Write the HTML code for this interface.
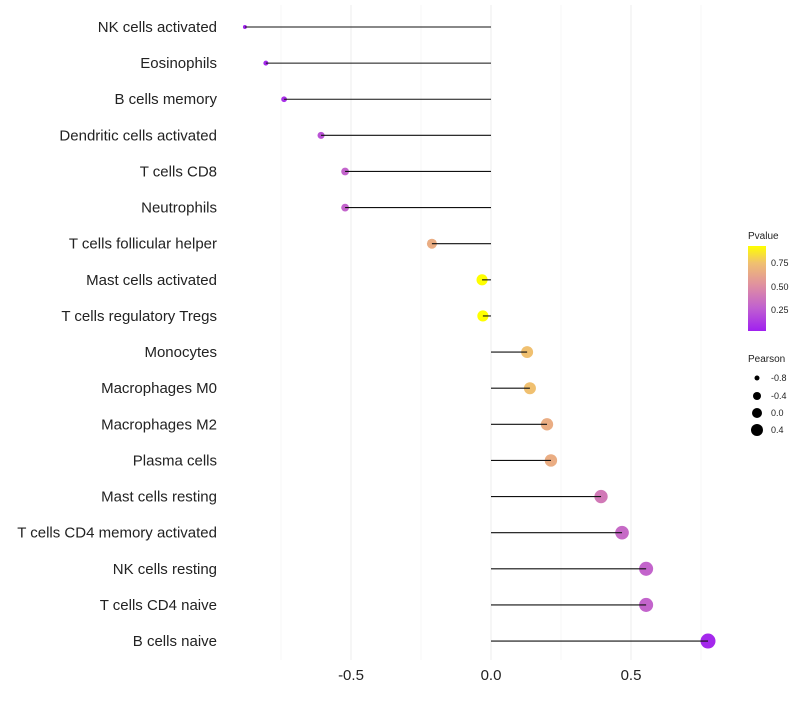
<!DOCTYPE html>
<html><head><meta charset="utf-8"><style>
body{margin:0;background:#fff;font-family:"Liberation Sans",sans-serif;}
</style></head><body>
<svg id="c" width="800" height="700" xmlns="http://www.w3.org/2000/svg">
<defs><linearGradient id="pg" x1="0" y1="1" x2="0" y2="0">
<stop offset="0" stop-color="#a020f0"/><stop offset="0.27" stop-color="#c060d0"/>
<stop offset="0.54" stop-color="#e090a0"/><stop offset="0.8" stop-color="#f0c070"/><stop offset="1" stop-color="#ffff00"/>
</linearGradient></defs>
<g id="grid"></g><g id="marks"></g><g id="labels"></g>
<g font-size="9" fill="#222">
<text x="748" y="239" font-size="10">Pvalue</text>
<rect x="748" y="246" width="18" height="85" fill="url(#pg)"/>
<text x="771" y="266">0.75</text><text x="771" y="290">0.50</text><text x="771" y="313">0.25</text>
<text x="748" y="362" font-size="10">Pearson</text>
<circle cx="757" cy="378" r="2.5" fill="#000"/><text x="771" y="381">-0.8</text>
<circle cx="757" cy="396" r="4" fill="#000"/><text x="771" y="399">-0.4</text>
<circle cx="757" cy="413" r="5" fill="#000"/><text x="771" y="416">0.0</text>
<circle cx="757" cy="430" r="6" fill="#000"/><text x="771" y="433">0.4</text>
</g>
</svg>
<script>
const categories=["NK cells activated","Eosinophils","B cells memory","Dendritic cells activated","T cells CD8","Neutrophils","T cells follicular helper","Mast cells activated","T cells regulatory  Tregs","Monocytes","Macrophages M0","Macrophages M2","Plasma cells","Mast cells resting","T cells CD4 memory activated","NK cells resting","T cells CD4 naive","B cells naive"];
const pearson=[-0.879,-0.804,-0.739,-0.607,-0.521,-0.521,-0.211,-0.032,-0.029,0.129,0.139,0.2,0.214,0.393,0.468,0.554,0.554,0.775];
const pvalue=[0.01,0.03,0.06,0.2,0.27,0.27,0.65,0.93,0.93,0.75,0.75,0.65,0.65,0.38,0.3,0.27,0.27,0.03];
const xTicks=[-0.5,0,0.5];
const xTickLabels=["-0.5","0.0","0.5"];
const minorTicks=[-0.75,-0.25,0.25,0.75];
const NS="http://www.w3.org/2000/svg";
const x=v=>491+v*280;
const y=i=>27+i*36.12;
const r=v=>Math.sqrt(Math.max(0.5,(v+1)*31.7));
const stops=[[0,[160,32,240]],[0.25,[192,96,208]],[0.5,[224,144,160]],[0.75,[240,192,112]],[0.93,[255,255,0]]];
function col(p){for(let k=1;k<stops.length;k++){if(p<=stops[k][0]||k==stops.length-1){const a=stops[k-1],b=stops[k];let t=Math.min(1,Math.max(0,(p-a[0])/(b[0]-a[0])));return`rgb(${a[1].map((c,j)=>Math.round(c+(b[1][j]-c)*t)).join(",")})`;}}}
function mk(t,at,par){const e=document.createElementNS(NS,t);for(const k in at)e.setAttribute(k,at[k]);par.appendChild(e);return e;}
const g=document.getElementById("grid"),m=document.getElementById("marks"),L=document.getElementById("labels");
minorTicks.forEach(v=>{const l=mk("line",{x1:x(v),x2:x(v),y1:5,y2:660,stroke:"#f4f4f4","stroke-width":0.7},g);

});
xTicks.forEach((v,i)=>{const l=mk("line",{x1:x(v),x2:x(v),y1:5,y2:660,stroke:"#ededed","stroke-width":1},g);


const t=mk("text",{x:x(v),y:680,"text-anchor":"middle","font-size":15,fill:"#222"},L);t.textContent=xTickLabels[i];

});
categories.forEach((c,i)=>{
const t=mk("text",{x:217,y:y(i)+5,"text-anchor":"end","font-size":15,fill:"#222"},L);t.textContent=c;


const p=mk("circle",{cx:x(pearson[i]),cy:y(i),r:r(pearson[i]),fill:col(pvalue[i])},m);


const s=mk("line",{x1:x(0),x2:x(pearson[i]),y1:y(i),y2:y(i),stroke:"#111","stroke-width":1.1},m);


});
</script>
</body></html>
